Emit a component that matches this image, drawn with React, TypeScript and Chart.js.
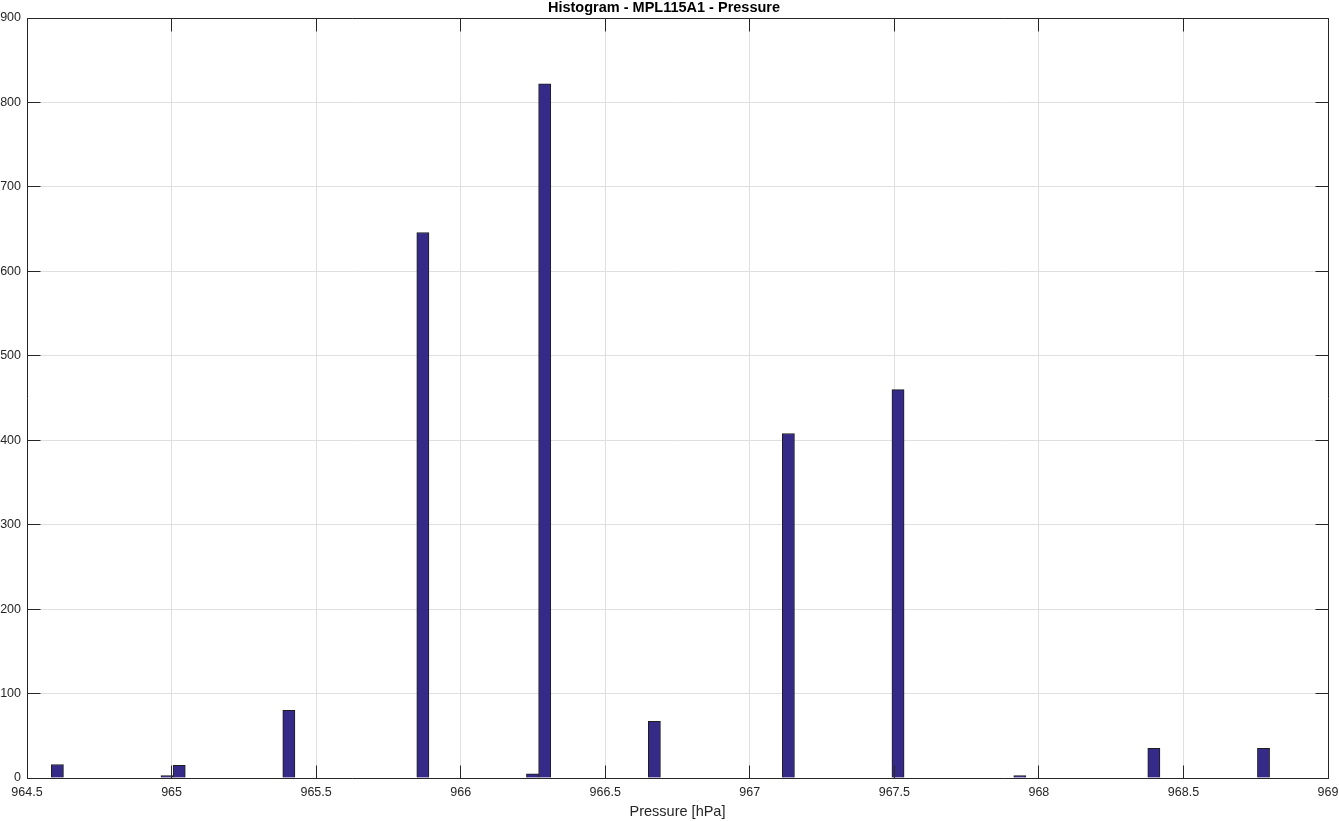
import React, { useEffect, useRef } from 'react';
import { Chart, registerables } from 'chart.js';

Chart.register(...registerables);

// Histogram bin range (hPa) – 100 equal bins
const binLow = 964.584;
const binHigh = 968.798;

// Counts per bin (100 bins)
const counts = [
  16, 0, 0, 0, 0, 0, 0, 0, 0, 3,
  15, 0, 0, 0, 0, 0, 0, 0, 0, 80,
  0, 0, 0, 0, 0, 0, 0, 0, 0, 0,
  646, 0, 0, 0, 0, 0, 0, 0, 0, 5,
  822, 0, 0, 0, 0, 0, 0, 0, 0, 67,
  0, 0, 0, 0, 0, 0, 0, 0, 0, 0,
  408, 0, 0, 0, 0, 0, 0, 0, 0, 460,
  0, 0, 0, 0, 0, 0, 0, 0, 0, 3,
  0, 0, 0, 0, 0, 0, 0, 0, 0, 0,
  35, 0, 0, 0, 0, 0, 0, 0, 0, 35,
];

const xTicks = [964.5, 965, 965.5, 966, 966.5, 967, 967.5, 968, 968.5, 969];
const yTicks = [0, 100, 200, 300, 400, 500, 600, 700, 800, 900];

const titleText = 'Histogram - MPL115A1 - Pressure';
const xLabel = 'Pressure [hPa]';

const FONT = "'Liberation Sans', Arial, Helvetica, sans-serif";
const AXIS_COLOR = '#262626';

const align = (p: number) => Math.round(p - 0.5) + 0.5;

const boxPlugin = {
  id: 'matlabBox',
  afterDatasetsDraw(chart: any) {
    const { ctx, chartArea, scales } = chart;
    const L = align(chartArea.left);
    const R = align(chartArea.right);
    const T = align(chartArea.top);
    const B = align(chartArea.bottom);
    const tl = 13;
    ctx.save();
    ctx.strokeStyle = AXIS_COLOR;
    ctx.lineWidth = 1;
    ctx.beginPath();
    ctx.rect(L, T, R - L, B - T);
    for (const v of xTicks) {
      const px = align(scales.x.getPixelForValue(v));
      ctx.moveTo(px, B);
      ctx.lineTo(px, B - tl);
      ctx.moveTo(px, T);
      ctx.lineTo(px, T + tl);
    }
    for (const v of yTicks) {
      const py = align(scales.y.getPixelForValue(v));
      ctx.moveTo(L, py);
      ctx.lineTo(L + tl, py);
      ctx.moveTo(R, py);
      ctx.lineTo(R - tl, py);
    }
    ctx.stroke();
    ctx.restore();
  },
};

export default function App() {
  const ref = useRef<HTMLCanvasElement | null>(null);

  useEffect(() => {
    if (!ref.current) return;
    const w = (binHigh - binLow) / counts.length;
    const data = counts.map((c, i) => ({ x: binLow + (i + 0.5) * w, y: c }));
    const chart = new Chart(ref.current, {
      type: 'bar',
      data: {
        datasets: [
          {
            data,
            backgroundColor: '#352a87',
            borderColor: '#1e1e1e',
            borderWidth: 1,
            borderSkipped: 'start',
            barPercentage: 1,
            categoryPercentage: 1,
          },
        ],
      },
      options: {
        animation: false,
        responsive: false,
        maintainAspectRatio: false,
        layout: { padding: { left: 0, right: 11, top: 0, bottom: 0 } },
        plugins: {
          legend: { display: false },
          tooltip: { enabled: false },
          title: {
            display: true,
            text: titleText,
            color: '#000000',
            font: { family: FONT, size: 14.5, weight: 'bold', lineHeight: 1 },
            padding: { top: 1, bottom: 2.5 },
          },
        },
        scales: {
          x: {
            type: 'linear',
            min: 964.5,
            max: 969,
            offset: false,
            afterFit: (s: any) => {
              s.height = 43;
              s.paddingLeft = 0;
              s.paddingRight = 0;
            },
            afterBuildTicks: (s: any) => {
              s.ticks = xTicks.map((v) => ({ value: v }));
            },
            ticks: {
              autoSkip: false,
              maxRotation: 0,
              color: AXIS_COLOR,
              font: { family: FONT, size: 12.5 },
              padding: 7,
              callback: (v: any) => String(v),
            },
            grid: { color: '#dfdfdf', drawTicks: false, lineWidth: 1, offset: false },
            border: { display: false },
            title: {
              display: true,
              text: xLabel,
              color: AXIS_COLOR,
              font: { family: FONT, size: 14.5 },
              padding: { top: 0, bottom: 0 },
            },
          },
          y: {
            type: 'linear',
            min: 0,
            max: 900,
            afterFit: (s: any) => {
              s.width = 27;
              s.paddingTop = 0;
              s.paddingBottom = 0;
            },
            afterBuildTicks: (s: any) => {
              s.ticks = yTicks.map((v) => ({ value: v }));
            },
            ticks: {
              color: AXIS_COLOR,
              font: { family: FONT, size: 12.5 },
              padding: 6,
              callback: (v: any) => String(v),
            },
            grid: { color: '#dfdfdf', drawTicks: false, lineWidth: 1 },
            border: { display: false },
          },
        },
      },
      plugins: [boxPlugin],
    });
    return () => chart.destroy();
  }, []);

  return (
    <div style={{ position: 'fixed', left: 0, top: 0, width: 1339, height: 821, background: '#fff' }}>
      <canvas ref={ref} width={1339} height={821} style={{ width: 1339, height: 821, display: 'block' }} />
    </div>
  );
}
